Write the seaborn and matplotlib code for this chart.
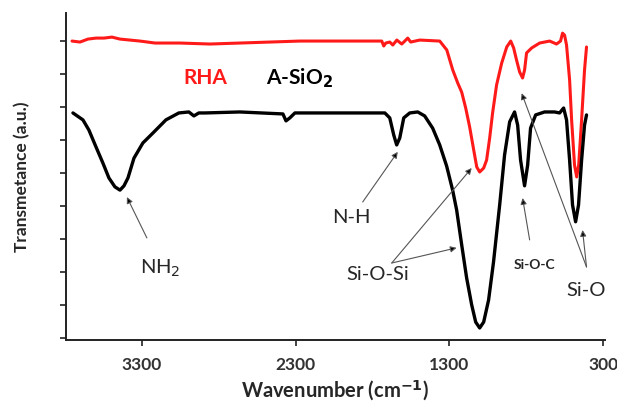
import matplotlib
matplotlib.use("Agg")
import matplotlib.pyplot as plt
import seaborn as sns
import numpy as np
import pandas as pd

# ---- data ----
wn_asio2 = [3749, 3684, 3645, 3599, 3554, 3515, 3476, 3443, 3417, 3391, 3352, 3294, 3229, 3144,
            3060, 2995, 2962, 2930, 2890, 2663, 2383, 2363, 2338, 2305, 2013, 1720, 1688, 1662,
            1643, 1623, 1597, 1558, 1506, 1461, 1409, 1363, 1318, 1279, 1253, 1220, 1188, 1155,
            1129, 1103, 1077, 1045, 1013, 973, 941, 908, 876, 856, 837, 811, 791, 772, 739, 681,
            616, 583, 557, 538, 518, 499, 479, 460, 440, 421, 408]
t_asio2 = [6.82, 6.61, 6.30, 5.79, 5.30, 4.85, 4.58, 4.48, 4.61, 4.85, 5.45, 5.91, 6.21, 6.61,
           6.82, 6.85, 6.73, 6.82, 6.82, 6.85, 6.79, 6.58, 6.67, 6.82, 6.82, 6.82, 6.67, 6.15,
           5.85, 6.06, 6.67, 6.82, 6.85, 6.73, 6.36, 5.85, 5.21, 4.48, 3.88, 2.82, 1.82, 1.00,
           0.48, 0.30, 0.48, 1.15, 2.30, 4.03, 5.55, 6.55, 6.85, 6.45, 5.39, 4.61, 5.24, 6.36,
           6.76, 6.85, 6.85, 6.82, 6.97, 6.61, 5.39, 4.03, 3.52, 4.03, 5.39, 6.45, 6.76]

wn_rha = [3755, 3703, 3651, 3599, 3547, 3495, 3443, 3378, 3313, 3215, 3053, 2858, 2663, 2468,
          2273, 1740, 1727, 1714, 1688, 1668, 1642, 1610, 1590, 1571, 1552, 1493, 1363, 1317,
          1278, 1246, 1220, 1194, 1168, 1142, 1122, 1103, 1077, 1058, 1038, 1019, 993, 960, 927,
          901, 882, 863, 843, 824, 811, 798, 765, 713, 648, 603, 577, 564, 551, 538, 518, 505,
          486, 472, 459, 440, 421, 408]
t_rha = [9.00, 8.97, 9.06, 9.09, 9.09, 9.12, 9.06, 9.03, 9.00, 8.94, 8.94, 8.91, 8.94, 8.97,
         9.00, 9.00, 8.85, 8.94, 8.97, 8.88, 9.03, 8.91, 9.00, 9.09, 8.97, 9.03, 9.00, 8.73,
         8.12, 7.73, 7.45, 6.97, 6.39, 5.70, 5.18, 5.03, 5.15, 5.39, 6.06, 6.82, 7.67, 8.33, 8.82,
         9.00, 8.79, 8.42, 8.06, 7.88, 8.12, 8.64, 8.79, 8.94, 9.00, 8.91, 9.00, 9.24, 9.18, 8.88,
         7.82, 6.61, 5.24, 4.88, 5.24, 6.61, 8.12, 8.82]

x_ticks = [3300, 2300, 1300, 300]

sns.set_theme(style="white")
plt.rcParams['font.family'] = ['Lato', 'DejaVu Sans']

fig = plt.figure(figsize=(6.17, 4.07), dpi=100)
ax = fig.add_axes([0.107, 0.165, 0.873, 0.803])

df_a = pd.DataFrame({"wn": wn_asio2, "t": t_asio2})
df_r = pd.DataFrame({"wn": wn_rha, "t": t_rha})
sns.lineplot(data=df_r, x="wn", y="t", color="#ff1a1a", lw=2.2, ax=ax, sort=False)
sns.lineplot(data=df_a, x="wn", y="t", color="black", lw=2.4, ax=ax, sort=False)

ax.set_xlim(3794, 290)
ax.set_ylim(-0.06, 9.85)
ax.set_xticks(x_ticks)
ax.set_xticklabels([str(v) for v in x_ticks], fontweight="bold", color="#333333", fontsize=12.5)
ax.set_yticks(range(10))
ax.set_yticklabels([])
ax.tick_params(axis="both", direction="out", length=4, width=1.2, color="#222222",
               bottom=True, left=True, pad=8)
for s in ["top", "right"]:
    ax.spines[s].set_visible(False)
for s in ["left", "bottom"]:
    ax.spines[s].set_color("#222222")
    ax.spines[s].set_linewidth(1.4)

ax.set_xlabel("Wavenumber (cm$^{\\mathbf{-1}}$)", fontweight="bold", fontsize=14.5, labelpad=4)
ax.set_ylabel("Transmetance (a.u.)", fontweight="bold", fontsize=12.5, labelpad=14)

ax.text(2890, 7.88, "RHA", color="#ff1a1a", fontweight="bold", fontsize=15, ha="center", va="center")
ax.text(2273, 7.88, "A-SiO$_\\mathbf{2}$", color="black", fontweight="bold", fontsize=15, ha="center", va="center")

arrow = dict(arrowstyle="-|>", color="#555555", lw=0.8, mutation_scale=9, shrinkA=0, shrinkB=0)

def arr(tail, head):
    ax.annotate("", xy=head, xytext=tail, arrowprops=dict(arrow, fc="black", ec="#555555"))

ax.text(3183, 2.12, "NH$_2$", fontsize=14.5, ha="center", va="center")
arr((3268, 3.03), (3398, 4.27))

ax.text(1935, 3.64, "N-H", fontsize=14.5, ha="center", va="center")
arr((1864, 4.12), (1636, 5.64))

ax.text(1766, 1.91, "Si-O-Si", fontsize=14.5, ha="center", va="center")
arr((1675, 2.27), (1155, 5.15))
arr((1675, 2.27), (1253, 2.73))

ax.text(746, 2.21, "Si-O-C", fontsize=10, fontweight="bold", ha="center", va="center")
arr((778, 2.97), (824, 4.24))

ax.text(408, 1.45, "Si-O", fontsize=14.5, ha="center", va="center")
arr((408, 2.15), (830, 7.42))
arr((408, 2.15), (434, 3.27))

fig.savefig("out.png", dpi=100)
